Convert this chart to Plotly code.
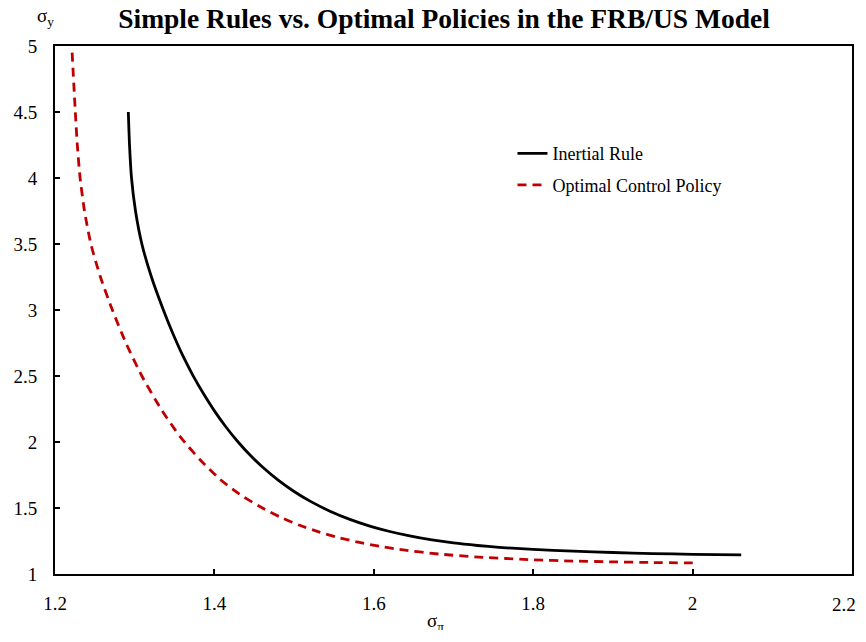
import plotly.graph_objects as go

# ── Data ──────────────────────────────────────────────────────────────────────
inertial_x = [1.292, 1.2935, 1.296, 1.301, 1.309, 1.321, 1.336, 1.348, 1.361, 1.373,
              1.386, 1.400, 1.415, 1.430, 1.445, 1.460, 1.480, 1.500, 1.520, 1.545,
              1.570, 1.595, 1.620, 1.645, 1.673, 1.700, 1.730, 1.757, 1.800, 1.850,
              1.900, 1.950, 2.000, 2.061]
inertial_y = [4.50, 4.25, 4.00, 3.75, 3.50, 3.25, 3.00, 2.82, 2.646, 2.505,
              2.369, 2.236, 2.110, 1.998, 1.899, 1.812, 1.711, 1.625, 1.552, 1.476,
              1.414, 1.363, 1.322, 1.289, 1.258, 1.235, 1.216, 1.202, 1.186, 1.173,
              1.163, 1.155, 1.149, 1.145]

optimal_x = [1.2215, 1.2255, 1.228, 1.2315, 1.237, 1.245, 1.257, 1.272, 1.289, 1.309,
             1.333, 1.357, 1.382, 1.407, 1.432, 1.457, 1.482, 1.507, 1.532, 1.557,
             1.582, 1.607, 1.632, 1.682, 1.732, 1.800, 1.850, 1.900, 1.950, 2.008]
optimal_y = [4.95, 4.50, 4.25, 4.00, 3.75, 3.50, 3.25, 3.00, 2.75, 2.50,
             2.25, 2.04, 1.866, 1.718, 1.603, 1.511, 1.433, 1.369, 1.317, 1.274,
             1.239, 1.210, 1.186, 1.151, 1.128, 1.108, 1.098, 1.092, 1.087, 1.083]

x_ticks = [1.2, 1.4, 1.6, 1.8, 2.0, 2.2]
x_tick_text = ["1.2", "1.4", "1.6", "1.8", "2", ""]   # last label drawn below
x_last_label = "2.2"
y_ticks = [1, 1.5, 2, 2.5, 3, 3.5, 4, 4.5, 5]
y_tick_text = ["1", "1.5", "2", "2.5", "3", "3.5", "4", "4.5", "5"]

SERIF = "Liberation Serif, Times New Roman, serif"

fig = go.Figure()
fig.add_trace(go.Scatter(
    x=inertial_x, y=inertial_y, mode="lines", name="Inertial Rule",
    line=dict(color="black", width=2.8, shape="spline", smoothing=0.6),
    legendgroup="a",
))
fig.add_trace(go.Scatter(
    x=optimal_x, y=optimal_y, mode="lines", name="Optimal Control Policy",
    line=dict(color="#C00000", width=2.8, dash="9px,6px", shape="spline", smoothing=0.6),
    legendgroup="b",
))

axis_common = dict(
    showline=True, linecolor="black", linewidth=2, mirror=True,
    showgrid=False, zeroline=False, automargin=False,
    ticks="inside", ticklen=5, tickwidth=1.5, tickcolor="black",
    tickfont=dict(family=SERIF, size=19, color="black"),
)

# page body adds an 8px offset, so margins are shifted to keep the plot in place
fig.update_layout(
    width=866, height=622,
    paper_bgcolor="white", plot_bgcolor="white",
    margin=dict(l=47, r=22, t=38, b=56),
    font=dict(family=SERIF, color="black"),
    title=dict(
        text="<b>Simple Rules vs. Optimal Policies in the FRB/US Model</b>",
        x=0.5035, xanchor="center", y=0.984, yanchor="middle",
        font=dict(family=SERIF, size=27.5, color="black"),
    ),
    xaxis=dict(range=[1.2, 2.2], tickvals=x_ticks, ticktext=x_tick_text,
               ticklabelstandoff=11, **axis_common),
    yaxis=dict(range=[1, 5], tickvals=y_ticks, ticktext=y_tick_text,
               ticklabelstandoff=12, **axis_common),
    legend=dict(
        x=0.574, y=0.831, xanchor="left", yanchor="top",
        bgcolor="rgba(0,0,0,0)", tracegroupgap=5,
        font=dict(family=SERIF, size=18, color="black"),
    ),
    showlegend=True,
)

# rightmost tick label, pulled in a little so the window edge doesn't cut it
fig.add_annotation(text=x_last_label, xref="x", yref="paper",
                   x=x_ticks[-1], y=0, xanchor="right", yanchor="middle",
                   xshift=6, yshift=-30, showarrow=False,
                   font=dict(family=SERIF, size=19, color="black"))

fig.add_annotation(text="σ<sub>y</sub>", xref="paper", yref="paper",
                   x=-0.025, y=1.082, showarrow=False,
                   font=dict(family=SERIF, size=19, color="black"))
fig.add_annotation(text="σ<sub>π</sub>", xref="paper", yref="paper",
                   x=0.478, y=-0.118, showarrow=False,
                   font=dict(family=SERIF, size=19, color="black"))

fig.write_html("out.html")
